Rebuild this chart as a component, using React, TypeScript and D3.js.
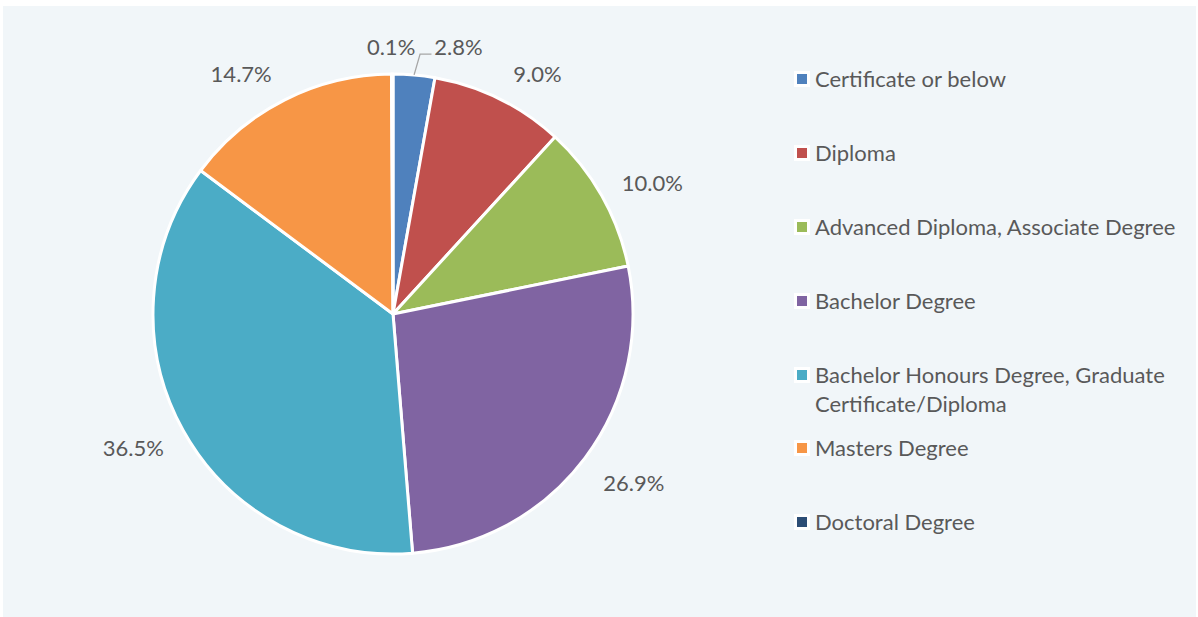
import { useEffect, useRef } from 'react';
import * as d3 from 'd3';

const categories = [
  'Certificate or below',
  'Diploma',
  'Advanced Diploma, Associate Degree',
  'Bachelor Degree',
  'Bachelor Honours Degree, Graduate Certificate/Diploma',
  'Masters Degree',
  'Doctoral Degree',
];
const shares = [2.8, 9.0, 10.0, 26.9, 36.5, 14.7, 0.1];
const colors = ['#4f81bd', '#c0504d', '#9bbb59', '#8064a2', '#4bacc6', '#f79646', '#2c4d75'];
// legend lines (wrapped like the original)
const legendLines = [
  ['Certificate or below'],
  ['Diploma'],
  ['Advanced Diploma, Associate Degree'],
  ['Bachelor Degree'],
  ['Bachelor Honours Degree, Graduate', 'Certificate/Diploma'],
  ['Masters Degree'],
  ['Doctoral Degree'],
];

export default function App() {
  const ref = useRef<SVGSVGElement>(null);

  useEffect(() => {
    if (!ref.current) return;
    const svg = d3.select(ref.current);
    svg.selectAll('*').remove();

    const W = 1198, H = 617;
    const font = 'Lato, Carlito, "Open Sans", sans-serif';
    const fs = 22;
    const textColor = '#595959';

    svg.append('rect').attr('width', W).attr('height', H).attr('fill', '#ffffff');
    svg.append('rect')
      .attr('x', 3).attr('y', 6).attr('width', 1193).attr('height', H - 6)
      .attr('fill', '#f1f6f9');

    // title sits above the crop, only its descenders show
    svg.append('text')
      .attr('x', 20).attr('y', -3)
      .attr('font-family', font).attr('font-size', 20)
      .attr('fill', '#404040')
      .text('Highest degree, by');

    const cx = 393, cy = 314, r = 240;
    const g = svg.append('g').attr('transform', `translate(${cx},${cy})`);

    const pie = d3.pie<number>().sort(null).value(d => d);
    const arcs = pie(shares);
    const arc = d3.arc<d3.PieArcDatum<number>>().innerRadius(0).outerRadius(r);

    g.selectAll('path.slice')
      .data(arcs)
      .enter()
      .append('path')
      .attr('class', 'slice')
      .attr('d', arc)
      .attr('fill', (_, i) => colors[i])
      .attr('stroke', '#ffffff')
      .attr('stroke-width', 3)
      .attr('stroke-linejoin', 'round');

    // "best fit" labels: radial point plus a small shift per slice
    const labelRadius = 290;
    const shift: [number, number][] = [[40, 22], [16, 20], [7, 12], [9, -5], [-6, -6], [-21, 19], [-1, 23]];
    arcs.forEach((a, i) => {
      const mid = (a.startAngle + a.endAngle) / 2;
      const x = Math.sin(mid) * labelRadius + shift[i][0];
      const y = -Math.cos(mid) * labelRadius + shift[i][1];
      g.append('text')
        .attr('x', x).attr('y', y)
        .attr('text-anchor', 'middle')
        .attr('dy', '0.36em')
        .attr('font-family', font).attr('font-size', fs)
        .attr('fill', textColor)
        .text(`${shares[i].toFixed(1)}%`);
      if (i === 0) {
        // leader line from slice edge to label
        const ex = Math.sin(mid) * r, ey = -Math.cos(mid) * r;
        const ly = y + 7;
        g.append('path')
          .attr('d', `M${ex},${ey}L${ex + 6},${ly}L${x - 27},${ly}`)
          .attr('fill', 'none')
          .attr('stroke', '#a6a6a6')
          .attr('stroke-width', 1.3);
      }
    });

    // legend
    const legendX = 802;
    const rowY = [79, 153, 227, 301, 375, 448, 522];
    const lg = svg.append('g');
    categories.forEach((c, i) => {
      const y = rowY[i];
      lg.append('rect')
        .attr('x', legendX - 8).attr('y', y - 8).attr('width', 16).attr('height', 16)
        .attr('fill', '#ffffff');
      lg.append('rect')
        .attr('x', legendX - 5).attr('y', y - 5).attr('width', 10).attr('height', 10)
        .attr('fill', colors[i]);
      const t = lg.append('text')
        .attr('font-family', font).attr('font-size', fs)
        .attr('fill', textColor)
        .attr('data-label', c);
      legendLines[i].forEach((line, j) => {
        t.append('tspan')
          .attr('x', legendX + 13)
          .attr('y', y + 8 + j * 29)
          .text(line);
      });
    });
  }, []);

  return (
    <svg
      ref={ref}
      width={1198}
      height={617}
      style={{ position: 'absolute', left: 0, top: 0, display: 'block' }}
    />
  );
}
